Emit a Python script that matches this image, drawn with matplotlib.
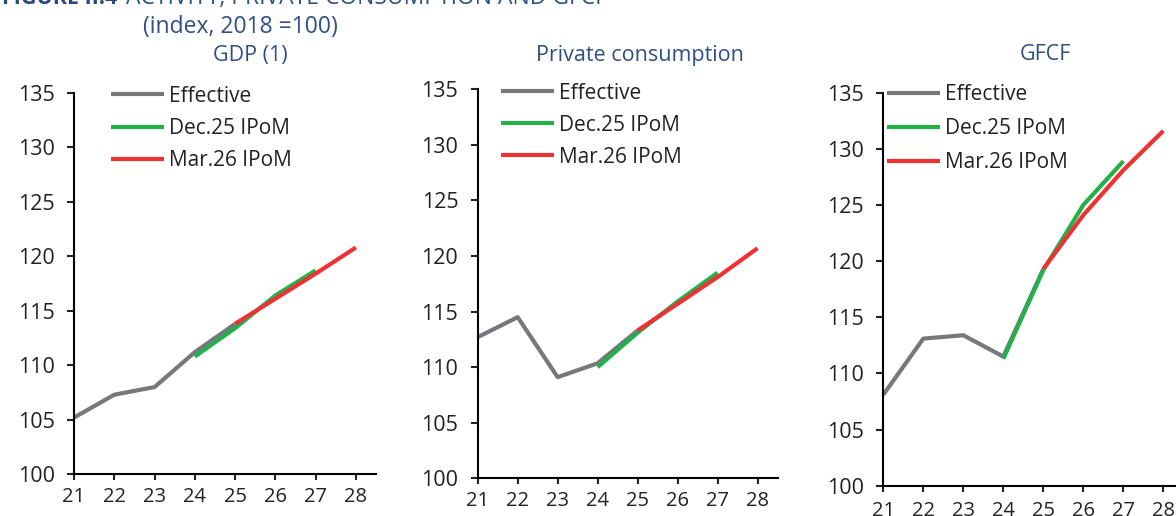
import matplotlib
matplotlib.use("Agg")
import matplotlib.pyplot as plt

plt.rcParams['font.family'] = ['Open Sans', 'DejaVu Sans']

# Years (two-digit) and series values, index 2018 = 100
years_eff = [21, 22, 23, 24, 25]
years_dec = [24, 25, 26, 27]
years_mar = [25, 26, 27, 28]
x_ticks = [21, 22, 23, 24, 25, 26, 27, 28]
y_ticks = [100, 105, 110, 115, 120, 125, 130, 135]

gdp_eff = [105.2, 107.3, 108.0, 111.2, 113.8]
gdp_dec = [110.8, 113.4, 116.4, 118.7]
gdp_mar = [113.8, 116.1, 118.4, 120.8]

cons_eff = [112.7, 114.5, 109.1, 110.35, 113.3]
cons_dec = [110.0, 113.1, 115.9, 118.5]
cons_mar = [113.3, 115.7, 118.1, 120.7]

gfcf_eff = [108.1, 113.1, 113.4, 111.5, 119.3]
gfcf_dec = [111.3, 119.2, 125.0, 128.9]
gfcf_mar = [119.3, 124.1, 128.1, 131.6]

series_names = ["Effective", "Dec.25 IPoM", "Mar.26 IPoM"]
panel_titles = ["GDP (1)", "Private consumption", "GFCF"]

GRAY = "#77787B"
GREEN = "#22B04B"
RED = "#EE3233"
BLUE = "#2F4F86"
NAVY = "#2A4780"
INK = "#222222"

W, H = 1176, 516
fig = plt.figure(figsize=(W / 100, H / 100), dpi=100)

# axes rectangles in pixels: left, top, right, bottom
rects = [
    (74, 92.7, 376, 474.3),
    (477.7, 89.3, 777.5, 478.3),
    (883.3, 92.7, 1183.3, 485.7),
]
legend_pos = [(111, 85.5), (501, 82.5), (887, 84)]
label_spacing = [0.55, 0.53, 0.63]
title_x = [250, 640, 1045]
x_pad = [5, 5, 6.5]

panels = [
    (gdp_eff, gdp_dec, gdp_mar),
    (cons_eff, cons_dec, cons_mar),
    (gfcf_eff, gfcf_dec, gfcf_mar),
]

FS = 15

for i, ((l, t, r, b), (eff, dec, mar)) in enumerate(zip(rects, panels)):
    ax = fig.add_axes([l / W, 1 - b / H, (r - l) / W, (b - t) / H])
    ax.plot(years_eff, eff, color=GRAY, lw=3, solid_capstyle='butt', label=series_names[0])
    ax.plot(years_dec, dec, color=GREEN, lw=3, solid_capstyle='butt', label=series_names[1])
    ax.plot(years_mar, mar, color=RED, lw=3, solid_capstyle='butt', label=series_names[2])
    ax.set_xlim(21, 28.5)
    ax.set_ylim(100, 135)
    ax.set_xticks(x_ticks)
    ax.set_yticks(y_ticks)
    ax.set_xticklabels([str(v) for v in x_ticks])
    for s in ("top", "right"):
        ax.spines[s].set_visible(False)
    for s in ("left", "bottom"):
        ax.spines[s].set_linewidth(1.5)
        ax.spines[s].set_color("black")
    ax.tick_params(axis='y', length=5, width=1.5, pad=9, labelsize=15.5, colors=INK)
    ax.tick_params(axis='x', length=4.5, width=1.5, pad=x_pad[i], labelsize=14.5, colors=INK)
    ax.patch.set_visible(False)

    lx, ly = legend_pos[i]
    leg = ax.legend(loc='upper left',
                    bbox_to_anchor=(lx / W, 1 - ly / H),
                    bbox_transform=fig.transFigure,
                    frameon=False, fontsize=FS, handlelength=2.55,
                    handletextpad=0.22, labelspacing=label_spacing[i],
                    borderpad=0, borderaxespad=0)
    for txt in leg.get_texts():
        txt.set_color(INK)

    fig.text(title_x[i] / W, 1 - 55 / H, panel_titles[i], ha='center', va='center',
             fontsize=15.5, color=BLUE)

fig.text(240 / W, 1 - 27 / H, "(index, 2018 =100)", ha='center', va='center',
         fontsize=16.5, color=BLUE)
fig.text(2 / W, 1 - 4 / H, "FIGURE II.4", ha='left', va='baseline',
         fontsize=15.5, color=NAVY, fontweight='bold')
fig.text(126 / W, 1 - 4 / H, "ACTIVITY, PRIVATE CONSUMPTION AND GFCF", ha='left',
         va='baseline', fontsize=16.5, color=BLUE)

fig.savefig("out.png", dpi=100)
